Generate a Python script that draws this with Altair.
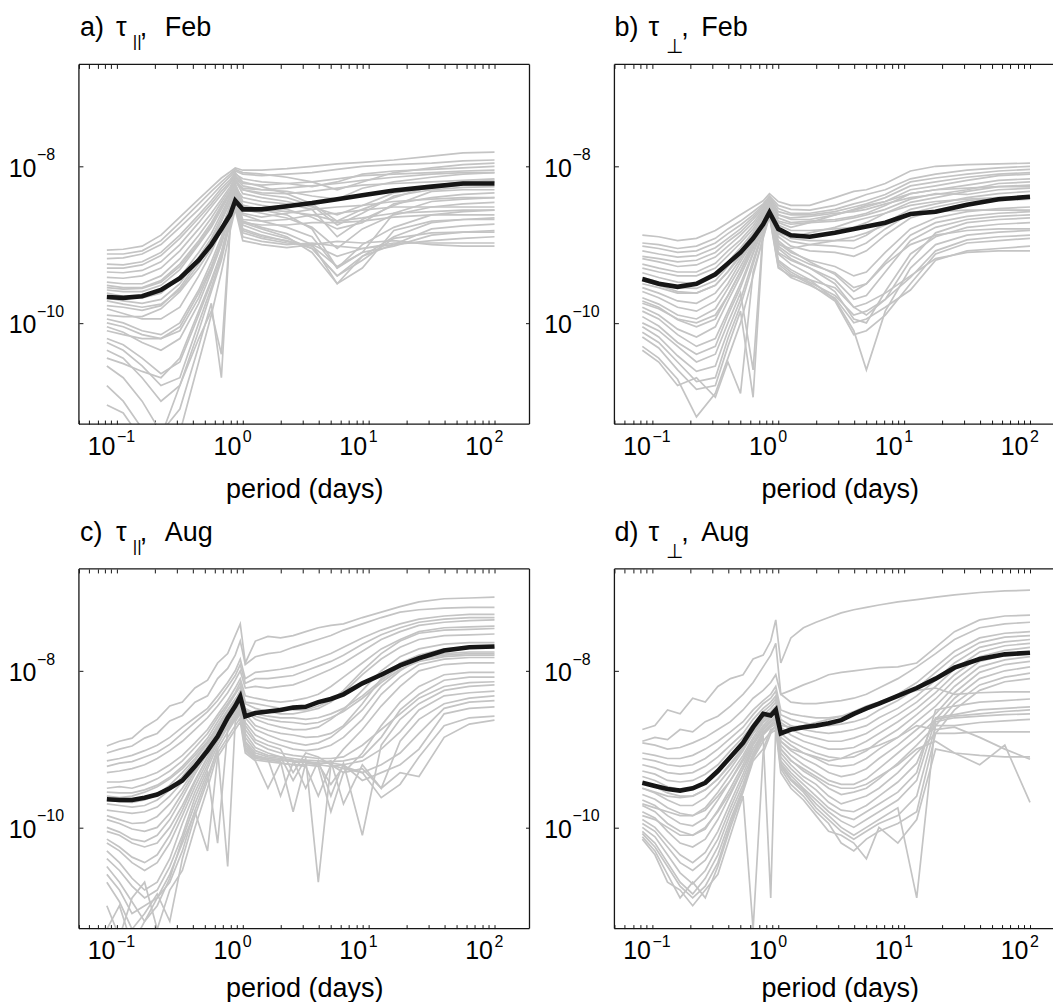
import altair as alt
import pandas as pd

FONT = "Liberation Sans"
GRAY = "#c4c4c4"
INK = "#161616"

# ---------------- axes / ticks ----------------
Y_DOMAIN = [5.1e-12, 2.0e-7]
X_DOMAIN_LEFT = [0.0499, 189.7]
X_DOMAIN_RIGHT = [0.0499, 152.3]
X_TICKS = [k * 10.0 ** e for e in (-2, -1, 0, 1, 2) for k in range(1, 10)
           if 0.0499 <= k * 10.0 ** e <= 189.7]
X_MAJOR = [0.1, 1, 10, 100]
X_EXP = ["−1", "0", "1", "2"]
Y_MAJOR = [1e-10, 1e-8]
Y_EXP = ["−10", "−8"]
BASE_LABEL = "10"

# ---------------- panel a) tau_par, Feb (log10 period, log10 value) ----------------
GRID_A = [-1.08, -0.95, -0.8, -0.65, -0.5, -0.35, -0.25, -0.17, -0.1, -0.06,
          0.0, 0.15, 0.35, 0.55, 0.75, 0.95, 1.2, 1.5, 1.75, 2.0]
MEAN_A = [-9.67, -9.68, -9.66, -9.58, -9.43, -9.2, -9.0, -8.8, -8.62, -8.44,
          -8.55, -8.55, -8.51, -8.47, -8.42, -8.37, -8.31, -8.26, -8.22, -8.22]
GRAY_A = [
    [-9.07, -9.06, -9.02, -8.88, -8.65, -8.42, -8.27, -8.15, -8.07, -8.02, -8.05, -8.05, -8.03, -8.0, -7.97, -7.95, -7.92, -7.87, -7.83, -7.82],
    [-9.18, -9.17, -9.12, -9.0, -8.78, -8.55, -8.38, -8.24, -8.13, -8.06, -8.1, -8.12, -8.1, -8.08, -8.04, -8.0, -7.98, -7.96, -7.93, -7.92],
    [-9.3, -9.3, -9.26, -9.14, -8.92, -8.66, -8.48, -8.32, -8.2, -8.1, -8.16, -8.2, -8.22, -8.26, -8.2, -8.1, -8.06, -8.04, -8.02, -8.0],
    [-9.42, -9.43, -9.4, -9.3, -9.08, -8.8, -8.6, -8.42, -8.26, -8.14, -8.25, -8.3, -8.32, -8.38, -8.42, -8.28, -8.2, -8.14, -8.1, -8.08],
    [-9.52, -9.55, -9.55, -9.46, -9.25, -8.95, -8.72, -8.5, -8.32, -8.18, -8.35, -8.4, -8.45, -8.52, -8.62, -8.5, -8.34, -8.28, -8.24, -8.2],
    [-9.62, -9.66, -9.68, -9.62, -9.42, -9.1, -8.86, -8.6, -8.38, -8.22, -8.45, -8.5, -8.55, -8.65, -8.8, -8.72, -8.48, -8.4, -8.36, -8.34],
    [-9.72, -9.76, -9.8, -9.76, -9.58, -9.25, -8.98, -8.7, -8.44, -8.26, -8.55, -8.6, -8.66, -8.78, -9.05, -8.8, -8.62, -8.52, -8.48, -8.46],
    [-9.82, -9.88, -9.95, -9.95, -9.8, -9.4, -9.1, -8.8, -8.5, -8.3, -8.62, -8.7, -8.78, -8.9, -9.3, -9.0, -8.78, -8.62, -8.58, -8.56],
    [-9.95, -10.0, -10.1, -10.15, -10.0, -9.58, -9.22, -8.9, -8.56, -8.34, -8.7, -8.78, -8.86, -9.0, -9.5, -9.15, -8.9, -8.72, -8.68, -8.66],
    [-10.05, -10.12, -10.25, -10.35, -10.2, -9.75, -9.35, -9.0, -8.62, -8.38, -8.75, -8.84, -8.92, -9.05, -9.4, -9.15, -9.0, -8.8, -8.76, -8.74],
    [-10.2, -10.28, -10.45, -10.65, -10.5, -9.9, -9.48, -9.1, -8.68, -8.42, -8.8, -8.88, -8.96, -9.02, -9.28, -9.1, -9.02, -8.88, -8.84, -8.82],
    [-10.35, -10.45, -10.7, -11.0, -10.8, -10.1, -9.6, -9.2, -8.72, -8.46, -8.85, -8.92, -8.98, -9.0, -9.15, -9.05, -9.0, -8.95, -8.92, -8.9],
    [-10.55, -10.7, -11.0, -11.4, -11.1, -10.3, -9.75, -10.7, -8.78, -8.5, -8.9, -8.96, -9.0, -8.98, -9.02, -9.05, -8.98, -8.98, -8.98, -8.98],
    [-10.8, -11.0, -11.35, -11.5, -11.4, -10.5, -9.9, -9.35, -8.82, -8.55, -8.95, -9.0, -9.04, -9.0, -8.96, -8.98, -8.95, -9.0, -9.02, -9.02],
    [-11.05, -11.15, -11.5, -11.45, -10.8, -10.2, -9.85, -10.4, -8.75, -8.5, -8.72, -8.75, -8.75, -8.72, -8.72, -8.7, -8.65, -8.62, -8.62, -8.62],
    [-9.25, -9.26, -9.22, -9.1, -8.88, -8.62, -8.44, -8.28, -8.17, -8.08, -8.2, -8.26, -8.35, -8.48, -8.7, -8.55, -8.4, -8.25, -8.2, -8.18],
    [-9.9, -9.92, -9.92, -9.82, -9.6, -9.3, -9.05, -8.82, -8.5, -8.32, -8.6, -8.65, -8.6, -8.55, -8.52, -8.5, -8.45, -8.42, -8.4, -8.4],
    [-10.45, -10.52, -10.62, -10.7, -10.45, -9.85, -9.45, -9.1, -8.66, -8.4, -8.68, -8.7, -8.68, -8.62, -8.6, -8.56, -8.52, -8.52, -8.52, -8.52],
    [-9.35, -9.36, -9.33, -9.22, -9.0, -8.72, -8.52, -8.36, -8.22, -8.12, -8.22, -8.24, -8.22, -8.2, -8.16, -8.12, -8.1, -8.08, -8.06, -8.05],
    [-9.58, -9.6, -9.6, -9.52, -9.32, -9.0, -8.78, -8.55, -8.35, -8.2, -8.3, -8.34, -8.35, -8.32, -8.28, -8.24, -8.22, -8.2, -8.18, -8.16],
    [-10.1, -10.15, -10.2, -10.2, -10.05, -9.62, -9.28, -8.95, -8.58, -8.36, -8.5, -8.55, -8.58, -8.62, -8.7, -8.66, -8.6, -8.58, -8.56, -8.56],
    [-9.78, -9.8, -9.84, -9.78, -9.55, -9.2, -8.94, -8.7, -8.45, -8.27, -8.4, -8.45, -8.48, -8.55, -8.9, -8.68, -8.5, -8.32, -8.3, -8.3],
    [-9.12, -9.12, -9.08, -8.95, -8.72, -8.48, -8.32, -8.2, -8.1, -8.04, -8.08, -8.1, -8.14, -8.2, -8.3, -8.2, -8.08, -8.02, -7.98, -7.96],
    [-9.48, -9.5, -9.5, -9.4, -9.18, -8.88, -8.66, -8.46, -8.29, -8.16, -8.3, -8.36, -8.4, -8.5, -8.75, -8.6, -8.38, -8.3, -8.27, -8.26],
    [-9.68, -9.72, -9.75, -9.7, -9.5, -9.16, -8.92, -8.65, -8.4, -8.24, -8.5, -8.56, -8.62, -8.8, -9.3, -9.1, -8.6, -8.45, -8.42, -8.4],
    [-10.0, -10.05, -10.15, -10.2, -10.1, -9.68, -9.3, -8.96, -8.6, -8.37, -8.72, -8.8, -8.9, -9.1, -9.5, -9.3, -8.82, -8.7, -8.68, -8.68],
    [-10.25, -10.35, -10.55, -10.8, -10.7, -10.0, -9.55, -9.15, -8.7, -8.44, -8.82, -8.9, -8.95, -9.05, -9.4, -9.2, -8.92, -8.85, -8.84, -8.84],
    [-9.55, -9.57, -9.56, -9.48, -9.28, -8.98, -8.75, -8.52, -8.33, -8.19, -8.28, -8.3, -8.28, -8.25, -8.22, -8.18, -8.14, -8.1, -8.08, -8.08],
]

# ---------------- panel b) tau_perp, Feb ----------------
GRID_B = [-1.08, -0.95, -0.8, -0.65, -0.5, -0.4, -0.3, -0.2, -0.12, -0.07, 0.0,
          0.1, 0.25, 0.45, 0.6, 0.7, 0.85, 1.05, 1.25, 1.5, 1.75, 2.0]
MEAN_B = [-9.44, -9.5, -9.54, -9.5, -9.38, -9.24, -9.1, -8.92, -8.74, -8.59, -8.8,
          -8.88, -8.9, -8.85, -8.8, -8.77, -8.72, -8.61, -8.58, -8.49, -8.42, -8.39]
GRAY_B = [
    [-8.88, -8.9, -8.95, -8.92, -8.82, -8.72, -8.62, -8.52, -8.44, -8.35, -8.45, -8.5, -8.5, -8.4, -8.32, -8.3, -8.22, -8.06, -8.0, -7.98, -7.97, -7.96],
    [-8.98, -9.0, -9.05, -9.02, -8.92, -8.8, -8.7, -8.58, -8.48, -8.38, -8.5, -8.55, -8.56, -8.5, -8.42, -8.36, -8.3, -8.16, -8.1, -8.05, -8.02, -8.0],
    [-9.08, -9.12, -9.16, -9.14, -9.04, -8.92, -8.8, -8.65, -8.52, -8.4, -8.58, -8.62, -8.62, -8.58, -8.52, -8.48, -8.4, -8.25, -8.2, -8.14, -8.1, -8.08],
    [-9.18, -9.22, -9.28, -9.26, -9.16, -9.02, -8.88, -8.72, -8.56, -8.42, -8.66, -8.72, -8.7, -8.68, -8.64, -8.6, -8.5, -8.35, -8.3, -8.24, -8.18, -8.16],
    [-9.3, -9.35, -9.4, -9.4, -9.3, -9.14, -8.98, -8.8, -8.6, -8.45, -8.75, -8.82, -8.82, -8.8, -8.78, -8.72, -8.6, -8.46, -8.4, -8.32, -8.26, -8.24],
    [-9.42, -9.48, -9.55, -9.56, -9.46, -9.28, -9.08, -8.86, -8.64, -8.47, -8.82, -8.92, -8.95, -8.95, -8.95, -8.88, -8.72, -8.55, -8.48, -8.4, -8.35, -8.32],
    [-9.55, -9.62, -9.72, -9.75, -9.62, -9.42, -9.18, -8.92, -8.68, -8.5, -8.9, -9.02, -9.08, -9.1, -9.15, -9.08, -8.88, -8.66, -8.56, -8.48, -8.44, -8.42],
    [-9.68, -9.76, -9.9, -9.95, -9.82, -9.56, -9.28, -8.98, -8.7, -8.52, -8.98, -9.1, -9.2, -9.28, -9.4, -9.35, -9.1, -8.8, -8.66, -8.58, -8.54, -8.52],
    [-9.8, -9.9, -10.08, -10.18, -10.05, -9.72, -9.4, -9.05, -8.74, -8.54, -9.05, -9.18, -9.3, -9.45, -9.7, -9.65, -9.35, -8.95, -8.78, -8.68, -8.64, -8.62],
    [-9.92, -10.04, -10.25, -10.4, -10.3, -9.9, -9.55, -9.12, -8.78, -8.56, -9.12, -9.25, -9.38, -9.6, -9.95, -10.0, -9.6, -9.12, -8.9, -8.78, -8.74, -8.72],
    [-10.05, -10.18, -10.42, -10.62, -10.55, -10.1, -9.7, -9.2, -8.82, -8.58, -9.2, -9.32, -9.45, -9.7, -10.1, -10.6, -9.85, -9.3, -9.0, -8.88, -8.84, -8.82],
    [-10.18, -10.32, -10.6, -10.85, -10.8, -10.3, -9.85, -10.95, -8.86, -8.6, -9.25, -9.38, -9.5, -9.72, -10.15, -10.1, -9.9, -9.5, -9.12, -8.98, -8.95, -8.92],
    [-10.3, -10.45, -10.72, -11.2, -10.9, -10.45, -10.0, -9.4, -8.9, -8.62, -9.28, -9.42, -9.52, -9.68, -10.0, -9.95, -9.8, -9.58, -9.2, -9.08, -9.05, -9.02],
    [-10.35, -10.5, -10.8, -10.7, -10.95, -10.5, -10.9, -9.35, -8.92, -8.64, -9.3, -9.4, -9.45, -9.55, -9.8, -9.75, -9.62, -9.4, -9.18, -9.1, -9.08, -9.08],
    [-9.5, -9.55, -9.62, -9.62, -9.52, -9.35, -9.15, -8.9, -8.66, -8.48, -8.72, -8.78, -8.72, -8.62, -8.55, -8.5, -8.45, -8.35, -8.3, -8.28, -8.26, -8.26],
    [-9.75, -9.82, -9.95, -10.0, -9.9, -9.65, -9.35, -9.02, -8.72, -8.52, -8.85, -8.9, -8.85, -8.78, -8.7, -8.66, -8.6, -8.5, -8.45, -8.42, -8.4, -8.4],
    [-10.0, -10.1, -10.3, -10.5, -10.4, -10.0, -9.62, -10.6, -8.8, -8.56, -9.0, -9.05, -9.0, -8.95, -8.9, -8.85, -8.75, -8.62, -8.58, -8.56, -8.56, -8.56],
    [-9.6, -9.68, -9.8, -9.85, -9.72, -9.5, -9.22, -8.95, -8.7, -8.5, -8.95, -9.08, -9.22, -9.38, -9.6, -9.5, -9.25, -9.0, -8.88, -8.82, -8.8, -8.8],
    [-9.25, -9.3, -9.35, -9.35, -9.24, -9.08, -8.94, -8.76, -8.58, -8.44, -8.62, -8.66, -8.64, -8.6, -8.58, -8.55, -8.48, -8.4, -8.36, -8.3, -8.22, -8.2],
    [-9.85, -9.95, -10.15, -10.3, -10.2, -9.85, -9.5, -9.1, -8.76, -8.55, -9.1, -9.2, -9.3, -9.5, -9.8, -9.9, -9.7, -9.2, -8.85, -8.72, -8.68, -8.66],
    [-9.36, -9.42, -9.48, -9.5, -9.4, -9.22, -9.04, -8.84, -8.62, -8.46, -8.7, -8.74, -8.72, -8.7, -8.66, -8.62, -8.55, -8.42, -8.35, -8.36, -8.3, -8.28],
    [-9.02, -9.05, -9.1, -9.08, -8.98, -8.86, -8.75, -8.62, -8.5, -8.39, -8.54, -8.6, -8.6, -8.55, -8.48, -8.44, -8.36, -8.2, -8.15, -8.1, -8.06, -8.04],
    [-9.46, -9.52, -9.6, -9.62, -9.52, -9.34, -9.12, -8.88, -8.66, -8.48, -8.86, -8.96, -9.0, -9.02, -9.05, -8.98, -8.8, -8.6, -8.52, -8.44, -8.4, -8.38],
    [-9.72, -9.8, -9.96, -10.05, -9.95, -9.65, -9.34, -9.0, -8.72, -8.53, -9.02, -9.14, -9.25, -9.36, -9.55, -9.5, -9.22, -8.88, -8.72, -8.64, -8.6, -8.58],
    [-10.12, -10.25, -10.5, -10.75, -10.7, -10.2, -9.78, -9.25, -8.84, -8.59, -9.22, -9.35, -9.48, -9.65, -9.9, -9.85, -9.7, -9.42, -9.08, -8.94, -8.9, -8.88],
    [-9.15, -9.18, -9.22, -9.2, -9.1, -8.96, -8.84, -8.68, -8.54, -8.41, -8.62, -8.68, -8.68, -8.62, -8.56, -8.52, -8.45, -8.3, -8.25, -8.18, -8.12, -8.1],
]

# ---------------- panel c) tau_par, Aug ----------------
GRID_C = [-1.08, -0.98, -0.88, -0.78, -0.68, -0.58, -0.48, -0.38, -0.28, -0.2, -0.12,
          -0.06, -0.02, 0.02, 0.1, 0.2, 0.3, 0.4, 0.5, 0.6, 0.7, 0.8, 0.95, 1.1,
          1.25, 1.4, 1.6, 1.8, 2.0]
MEAN_C = [-9.64, -9.65, -9.65, -9.62, -9.58, -9.5, -9.4, -9.22, -9.02, -8.84, -8.6,
          -8.45, -8.33, -8.58, -8.54, -8.52, -8.5, -8.47, -8.46, -8.4, -8.36, -8.3,
          -8.16, -8.05, -7.93, -7.84, -7.74, -7.7, -7.69]
GRAY_C = [
    [-8.96, -8.9, -8.86, -8.72, -8.62, -8.45, -8.4, -8.22, -8.12, -7.9, -7.78, -7.55, -7.4, -7.9, -7.62, -7.56, -7.58, -7.55, -7.5, -7.45, -7.42, -7.4, -7.32, -7.25, -7.18, -7.12, -7.08, -7.07, -7.06],
    [-9.05, -9.0, -8.96, -8.86, -8.8, -8.64, -8.57, -8.4, -8.32, -8.1, -7.97, -7.8, -7.62, -7.92, -7.82, -7.78, -7.76, -7.7, -7.65, -7.6, -7.55, -7.48, -7.4, -7.32, -7.25, -7.22, -7.2, -7.19, -7.19],
    [-9.15, -9.12, -9.08, -9.02, -8.95, -8.85, -8.72, -8.6, -8.48, -8.32, -8.15, -8.0, -7.85, -8.1, -8.02, -8.0, -7.98, -7.95, -7.9, -7.84, -7.78, -7.7, -7.58, -7.48, -7.4, -7.34, -7.3, -7.28, -7.28],
    [-9.3, -9.28, -9.25, -9.2, -9.12, -9.02, -8.9, -8.75, -8.6, -8.45, -8.28, -8.12, -8.0, -8.22, -8.2, -8.22, -8.2, -8.18, -8.12, -8.05, -7.98, -7.9, -7.75, -7.6, -7.5, -7.42, -7.38, -7.36, -7.35],
    [-9.42, -9.42, -9.4, -9.36, -9.3, -9.2, -9.08, -8.92, -8.75, -8.56, -8.38, -8.22, -8.1, -8.32, -8.35, -8.38, -8.4, -8.38, -8.35, -8.3, -8.2, -8.08, -7.9, -7.72, -7.6, -7.5, -7.45, -7.44, -7.43],
    [-9.55, -9.56, -9.56, -9.52, -9.46, -9.36, -9.22, -9.05, -8.86, -8.65, -8.45, -8.3, -8.2, -8.42, -8.48, -8.52, -8.55, -8.55, -8.52, -8.48, -8.4, -8.28, -8.05, -7.85, -7.7, -7.6, -7.55, -7.54, -7.53],
    [-9.7, -9.72, -9.74, -9.72, -9.65, -9.52, -9.35, -9.15, -8.92, -8.7, -8.5, -8.36, -8.28, -8.5, -8.62, -8.68, -8.72, -8.75, -8.75, -8.72, -8.62, -8.5, -8.25, -8.0, -7.82, -7.72, -7.66, -7.64, -7.64],
    [-9.85, -9.9, -9.95, -9.94, -9.86, -9.7, -9.5, -9.25, -9.0, -8.76, -8.55, -8.4, -8.32, -8.6, -8.75, -8.82, -8.88, -8.92, -8.95, -8.92, -8.85, -8.72, -8.5, -8.2, -8.0, -7.85, -7.78, -7.76, -7.76],
    [-10.0, -10.06, -10.15, -10.18, -10.1, -9.9, -9.62, -9.32, -9.05, -8.82, -8.6, -8.45, -8.36, -8.7, -8.88, -8.95, -9.0, -9.3, -9.05, -9.1, -9.2, -9.0, -8.75, -8.45, -8.2, -8.0, -7.92, -7.9, -7.9],
    [-10.15, -10.25, -10.38, -10.45, -10.35, -10.1, -9.78, -9.42, -9.1, -8.85, -8.65, -8.5, -8.4, -8.8, -8.98, -9.05, -9.1, -9.4, -9.12, -10.7, -9.2, -9.3, -9.05, -8.7, -8.4, -8.2, -8.05, -8.02, -8.02],
    [-10.3, -10.45, -10.65, -10.8, -10.7, -10.4, -9.95, -9.55, -9.2, -8.9, -8.7, -8.55, -8.45, -8.9, -9.05, -9.1, -9.12, -9.14, -9.5, -9.15, -9.6, -9.18, -10.1, -8.95, -8.62, -8.42, -8.25, -8.2, -8.18],
    [-10.5, -10.7, -10.95, -11.2, -11.0, -10.65, -10.15, -9.7, -9.3, -10.2, -8.75, -8.6, -8.5, -8.95, -9.1, -9.12, -9.14, -9.16, -9.15, -9.2, -9.15, -9.7, -9.2, -9.5, -8.9, -8.62, -8.42, -8.35, -8.32],
    [-10.7, -10.95, -11.3, -11.1, -10.85, -11.2, -10.4, -9.85, -9.4, -9.0, -10.5, -8.65, -8.55, -9.0, -9.12, -9.14, -9.16, -9.8, -9.18, -9.2, -9.22, -9.2, -9.4, -9.3, -9.2, -9.0, -8.55, -8.48, -8.46],
    [-11.0, -11.4, -10.9, -10.7, -11.3, -10.8, -10.55, -10.0, -9.5, -9.05, -8.85, -8.7, -8.6, -9.02, -9.14, -9.16, -9.18, -9.2, -9.22, -9.6, -9.2, -9.25, -9.3, -9.62, -9.45, -9.1, -8.7, -8.6, -8.58],
    [-11.3, -11.0, -11.5, -11.2, -10.9, -10.6, -10.2, -9.8, -10.3, -9.1, -8.9, -8.75, -8.65, -9.05, -9.15, -9.5, -9.18, -9.2, -9.2, -9.22, -9.8, -9.3, -9.25, -9.5, -9.3, -9.35, -8.85, -8.68, -8.63],
    [-9.6, -9.62, -9.6, -9.55, -9.48, -9.38, -9.25, -9.08, -8.9, -8.72, -8.52, -8.38, -8.25, -8.48, -8.55, -8.58, -8.6, -8.6, -8.62, -8.6, -8.55, -8.48, -8.32, -8.12, -7.95, -7.85, -7.8, -7.78, -7.78],
    [-10.05, -10.1, -10.2, -10.25, -10.2, -10.0, -9.72, -9.4, -9.1, -8.85, -8.62, -8.48, -8.38, -8.75, -8.92, -9.0, -9.05, -9.08, -9.1, -9.12, -9.12, -9.1, -8.95, -8.75, -8.55, -8.35, -8.2, -8.15, -8.14],
    [-9.5, -9.48, -9.5, -9.45, -9.38, -9.28, -9.15, -8.98, -8.8, -8.6, -8.42, -8.28, -8.15, -8.4, -8.42, -8.45, -8.48, -8.5, -8.5, -8.45, -8.38, -8.25, -8.0, -7.78, -7.62, -7.52, -7.48, -7.47, -7.46],
    [-10.4, -10.55, -10.75, -10.9, -10.8, -10.5, -10.1, -9.62, -9.25, -8.95, -8.72, -8.58, -8.48, -8.92, -9.08, -9.12, -9.14, -9.15, -9.16, -9.18, -9.18, -9.2, -9.15, -9.0, -8.78, -8.5, -8.32, -8.28, -8.26],
    [-9.78, -9.8, -9.82, -9.8, -9.74, -9.6, -9.42, -9.2, -8.96, -8.74, -8.52, -8.38, -8.3, -8.55, -8.7, -8.76, -8.8, -8.82, -8.85, -8.84, -8.8, -8.7, -8.42, -8.1, -7.9, -7.8, -7.72, -7.7, -7.7],
    [-9.22, -9.18, -9.16, -9.1, -9.04, -8.94, -8.8, -8.66, -8.52, -8.38, -8.2, -8.06, -7.92, -8.16, -8.1, -8.1, -8.08, -8.06, -8.0, -7.94, -7.88, -7.8, -7.66, -7.54, -7.45, -7.38, -7.34, -7.32, -7.32],
    [-9.9, -9.95, -10.02, -10.05, -10.0, -9.82, -9.56, -9.28, -9.02, -8.8, -8.58, -8.44, -8.35, -8.66, -8.82, -8.9, -8.95, -9.0, -9.02, -9.0, -8.95, -8.85, -8.62, -8.3, -8.08, -7.92, -7.85, -7.83, -7.83],
    [-10.6, -10.8, -11.1, -11.0, -10.9, -10.7, -10.3, -9.78, -9.35, -9.0, -8.78, -8.62, -8.52, -8.98, -9.1, -9.13, -9.6, -9.17, -9.17, -9.19, -9.45, -9.22, -9.3, -9.2, -9.05, -8.8, -8.48, -8.4, -8.38],
    [-9.65, -9.67, -9.68, -9.65, -9.58, -9.46, -9.3, -9.12, -8.92, -8.7, -8.5, -8.37, -8.27, -8.5, -8.58, -8.62, -8.65, -8.66, -8.68, -8.66, -8.6, -8.52, -8.35, -8.15, -7.98, -7.88, -7.82, -7.8, -7.8],
    [-10.2, -10.3, -10.45, -10.55, -10.45, -10.2, -9.85, -9.48, -9.15, -8.88, -8.66, -8.52, -8.42, -8.85, -9.02, -9.08, -9.1, -9.12, -9.14, -9.15, -9.16, -9.15, -9.1, -8.85, -8.5, -8.3, -8.12, -8.08, -8.08],
]

# ---------------- panel d) tau_perp, Aug ----------------
GRID_D = GRID_C
MEAN_D = [-9.43, -9.47, -9.51, -9.53, -9.5, -9.43, -9.28, -9.1, -8.92, -8.72, -8.55,
          -8.57, -8.5, -8.8, -8.75, -8.72, -8.7, -8.67, -8.63, -8.55, -8.48, -8.42,
          -8.32, -8.22, -8.1, -7.96, -7.85, -7.79, -7.77]
GRAY_D = [
    [-8.75, -8.7, -8.5, -8.55, -8.35, -8.4, -8.2, -8.1, -8.05, -7.85, -7.8, -7.62, -7.35, -7.9, -7.58, -7.45, -7.38, -7.32, -7.26, -7.22, -7.19, -7.16, -7.12, -7.09, -7.06, -7.03, -7.0, -6.98, -6.97],
    [-8.9, -8.85, -8.88, -8.75, -8.78, -8.65, -8.58, -8.45, -8.3, -8.15, -7.95, -7.8, -7.65, -8.3, -8.25, -8.18, -8.12, -8.05, -8.02, -8.0, -7.98, -7.96, -7.95, -7.9, -7.7, -7.5, -7.35, -7.3, -7.29],
    [-8.92, -8.95, -9.0, -8.98, -8.92, -8.85, -8.75, -8.65, -8.5, -8.35, -8.25, -8.15, -8.05, -8.3, -8.4, -8.42, -8.42, -8.4, -8.38, -8.35, -8.3, -8.22, -8.1, -7.95, -7.78, -7.6, -7.45, -7.4, -7.38],
    [-9.05, -9.08, -9.12, -9.12, -9.08, -9.0, -8.9, -8.78, -8.65, -8.5, -8.38, -8.3, -8.2, -8.5, -8.55, -8.58, -8.6, -8.6, -8.58, -8.55, -8.5, -8.42, -8.3, -8.15, -7.95, -7.75, -7.58, -7.52, -7.5],
    [-9.2, -9.24, -9.3, -9.32, -9.3, -9.22, -9.1, -8.95, -8.8, -8.62, -8.48, -8.4, -8.32, -8.62, -8.7, -8.75, -8.78, -8.8, -8.78, -8.75, -8.7, -8.6, -8.48, -8.32, -8.12, -7.9, -7.7, -7.63, -7.6],
    [-9.35, -9.4, -9.48, -9.52, -9.5, -9.42, -9.28, -9.1, -8.92, -8.72, -8.56, -8.48, -8.4, -8.72, -8.82, -8.9, -8.95, -9.0, -9.0, -8.98, -8.9, -8.8, -8.65, -8.48, -8.28, -8.05, -7.82, -7.74, -7.7],
    [-9.5, -9.56, -9.65, -9.72, -9.72, -9.62, -9.45, -9.25, -9.02, -8.8, -8.62, -8.55, -8.48, -8.85, -8.95, -9.05, -9.12, -9.2, -9.22, -9.2, -9.12, -9.0, -8.85, -8.65, -8.45, -8.2, -7.95, -7.86, -7.82],
    [-9.65, -9.72, -9.85, -9.95, -9.98, -9.88, -9.65, -9.4, -9.12, -8.88, -8.7, -8.6, -8.55, -8.95, -9.08, -9.2, -9.3, -9.4, -9.45, -9.45, -9.38, -9.25, -9.05, -8.85, -8.62, -8.35, -8.1, -8.0, -7.95],
    [-9.8, -9.88, -10.05, -10.2, -10.25, -10.15, -9.9, -9.58, -9.25, -8.95, -8.75, -8.65, -8.6, -9.05, -9.2, -9.35, -9.45, -9.6, -9.7, -9.65, -9.6, -9.5, -9.3, -9.05, -8.8, -8.5, -8.25, -8.14, -8.1],
    [-9.95, -10.05, -10.25, -10.45, -10.55, -10.42, -10.15, -9.75, -9.38, -9.05, -8.8, -8.7, -8.65, -9.15, -9.3, -9.45, -9.6, -9.75, -9.85, -9.9, -9.8, -9.7, -9.55, -9.3, -8.5, -8.45, -8.4, -8.38, -8.36],
    [-10.05, -10.2, -10.45, -10.7, -10.85, -10.65, -10.35, -9.9, -9.5, -9.1, -8.85, -10.9, -8.7, -9.2, -9.38, -9.52, -9.7, -9.85, -10.0, -10.1, -10.0, -9.9, -9.75, -10.9, -8.65, -8.6, -8.58, -8.56, -8.55],
    [-10.12, -10.3, -10.6, -10.9, -10.7, -10.9, -10.5, -10.0, -9.55, -9.15, -9.0, -8.75, -8.72, -9.25, -9.45, -9.6, -9.8, -9.95, -10.2, -10.3, -10.15, -10.05, -9.95, -9.8, -8.8, -8.8, -8.78, -8.78, -8.78],
    [-10.15, -10.35, -10.7, -10.8, -11.0, -10.8, -10.6, -10.1, -9.6, -11.3, -9.05, -8.8, -8.75, -9.3, -9.5, -9.65, -9.85, -10.05, -10.1, -10.2, -10.4, -10.0, -10.2, -9.9, -9.0, -9.05, -9.08, -9.1, -9.1],
    [-9.5, -9.55, -9.6, -9.62, -9.6, -9.52, -9.38, -9.2, -9.0, -8.8, -8.65, -8.56, -8.5, -8.7, -8.72, -8.7, -8.66, -8.62, -8.58, -8.52, -8.45, -8.4, -8.32, -8.25, -8.22, -8.3, -8.28, -8.27, -8.27],
    [-9.7, -9.75, -9.8, -9.85, -9.85, -9.78, -9.6, -9.4, -9.15, -8.92, -8.75, -8.65, -8.6, -8.9, -9.0, -9.05, -9.1, -9.15, -9.12, -9.05, -9.0, -8.95, -8.85, -8.7, -8.75, -8.72, -8.85, -9.0, -9.13],
    [-9.85, -9.9, -10.0, -10.1, -10.1, -10.0, -9.8, -9.55, -9.25, -9.0, -8.8, -8.7, -8.65, -9.0, -9.15, -9.25, -9.35, -9.45, -9.5, -9.5, -9.45, -9.35, -9.2, -9.0, -8.9, -9.05, -9.2, -8.95, -9.68],
    [-9.28, -9.32, -9.4, -9.42, -9.4, -9.32, -9.2, -9.02, -8.85, -8.68, -8.52, -8.44, -8.36, -8.66, -8.75, -8.82, -8.86, -8.9, -8.9, -8.86, -8.8, -8.7, -8.56, -8.4, -8.2, -7.98, -7.76, -7.68, -7.65],
    [-9.58, -9.64, -9.75, -9.82, -9.85, -9.75, -9.55, -9.32, -9.08, -8.85, -8.66, -8.58, -8.52, -8.9, -9.02, -9.12, -9.2, -9.3, -9.35, -9.32, -9.25, -9.12, -8.95, -8.75, -8.55, -8.28, -8.02, -7.92, -7.88],
    [-10.08, -10.25, -10.5, -10.75, -10.9, -10.75, -10.45, -9.95, -9.52, -9.12, -8.9, -8.78, -8.7, -9.22, -9.4, -9.55, -9.75, -9.9, -10.05, -10.15, -10.05, -9.95, -9.85, -9.6, -8.7, -8.7, -8.66, -8.64, -8.62],
    [-9.12, -9.15, -9.2, -9.22, -9.2, -9.12, -9.0, -8.86, -8.72, -8.56, -8.42, -8.35, -8.26, -8.56, -8.62, -8.66, -8.7, -8.7, -8.68, -8.65, -8.6, -8.5, -8.38, -8.22, -8.02, -7.82, -7.64, -7.57, -7.55],
    [-9.42, -9.48, -9.56, -9.6, -9.6, -9.52, -9.38, -9.18, -8.98, -8.78, -8.6, -8.52, -8.45, -8.8, -8.9, -8.98, -9.05, -9.1, -9.12, -9.1, -9.02, -8.9, -8.75, -8.56, -8.36, -8.12, -7.88, -7.8, -7.76],
    [-9.72, -9.8, -9.95, -10.05, -10.1, -10.02, -9.78, -9.5, -9.2, -8.92, -8.72, -8.63, -8.58, -9.0, -9.14, -9.28, -9.38, -9.5, -9.58, -9.55, -9.5, -9.38, -9.18, -8.95, -8.7, -8.42, -8.18, -8.08, -8.03],
    [-9.9, -10.0, -10.18, -10.35, -10.45, -10.32, -10.05, -9.68, -9.32, -9.0, -8.78, -8.68, -8.62, -9.1, -9.25, -9.4, -9.52, -9.68, -9.78, -9.8, -9.72, -9.6, -9.42, -9.18, -8.6, -8.56, -8.5, -8.48, -8.46],
    [-10.0, -10.12, -10.35, -10.58, -10.72, -10.55, -10.25, -9.82, -9.45, -9.08, -8.82, -8.72, -8.68, -9.18, -9.34, -9.5, -9.65, -9.8, -9.92, -10.0, -9.9, -9.8, -9.65, -9.4, -8.62, -8.58, -8.55, -8.52, -8.5],
]

ONE = pd.DataFrame({"k": [0]})
H = 360
TICK = 4
LABEL_SIZE = 25
EXP_SIZE = 16


def lines_df(grid, gray):
    rows = []
    for i, vals in enumerate(gray):
        for p, v in zip(grid, vals):
            rows.append({"series": f"s{i:02d}", "period": 10 ** p, "tau": 10 ** v})
    return pd.DataFrame(rows)


def mean_df(grid, mean):
    return pd.DataFrame({"period": [10 ** p for p in grid], "tau": [10 ** v for v in mean]})


def base_expr(values):
    cond = " || ".join(f"datum.value == {v!r}" for v in values)
    return f"({cond}) ? '{BASE_LABEL}' : ''"


def x_bottom(title_y):
    return alt.Axis(orient="bottom", values=X_TICKS, labelExpr=base_expr(X_MAJOR),
                    tickSize=TICK, offset=-TICK, domain=False, grid=False, tickColor=INK,
                    labelFont=FONT, labelFontSize=LABEL_SIZE, labelColor="black",
                    labelPadding=30, labelAlign="right", labelOffset=-2,
                    labelBaseline="alphabetic", labelOverlap=False, labelFlush=False,
                    title="period (days)", titleFont=FONT, titleFontSize=27,
                    titleFontWeight="normal", titleColor="black", titleX=225.5,
                    titleY=title_y, titleAlign="center", titleBaseline="alphabetic")


def x_top():
    return alt.Axis(orient="top", values=X_TICKS, labels=False, tickSize=TICK, offset=-TICK,
                    domain=False, grid=False, tickColor=INK, title=None)


def y_left():
    return alt.Axis(orient="left", values=Y_MAJOR, labelExpr=base_expr(Y_MAJOR),
                    tickSize=TICK, offset=-TICK, domain=False, grid=False, tickColor=INK,
                    labelFont=FONT, labelFontSize=LABEL_SIZE, labelColor="black",
                    labelPadding=43, labelAlign="right", labelBaseline="alphabetic",
                    labelOffset=10, labelOverlap=False, labelFlush=False, title=None)


def y_right():
    return alt.Axis(orient="right", values=Y_MAJOR, labels=False, tickSize=TICK, offset=-TICK,
                    domain=False, grid=False, tickColor=INK, title=None)


def txt(s, x, y, size):
    return alt.Chart(ONE).mark_text(align="left", baseline="alphabetic", font=FONT,
                                    fontSize=size, color="black").encode(
        x=alt.value(x), y=alt.value(y), text=alt.value(s))


def rule(**enc):
    return alt.Chart(ONE).mark_rule(color=INK, strokeWidth=1.3).encode(**enc)


def panel(grid, gray, mean, width, xdom, letter, sub, month, right, title_y, anchor_left, anchor_top):
    xs = alt.Scale(type="log", domain=xdom, nice=False)
    ys = alt.Scale(type="log", domain=Y_DOMAIN, nice=False)
    g = alt.Chart(lines_df(grid, gray)).mark_line(color=GRAY, strokeWidth=1.7, clip=True).encode(
        x=alt.X("period:Q", scale=xs, axis=x_bottom(title_y)),
        y=alt.Y("tau:Q", scale=ys, axis=y_left()),
        detail="series:N")
    m = alt.Chart(mean_df(grid, mean)).mark_line(color=INK, strokeWidth=4.6, clip=True).encode(
        x=alt.X("period:Q", scale=xs, axis=x_top()),
        y=alt.Y("tau:Q", scale=ys, axis=y_right() if right else None))
    xexp = alt.Chart(pd.DataFrame({"period": X_MAJOR, "exp": X_EXP})).mark_text(
        align="left", baseline="alphabetic", font=FONT, fontSize=EXP_SIZE, color="black").encode(
        x=alt.X("period:Q", scale=xs, axis=None), y=alt.value(H + 18), text="exp:N")
    yexp = alt.Chart(pd.DataFrame({"tau": Y_MAJOR, "exp": Y_EXP})).mark_text(
        align="left", baseline="alphabetic", font=FONT, fontSize=EXP_SIZE, color="black",
        dy=-6).encode(
        y=alt.Y("tau:Q", scale=ys, axis=None), x=alt.value(-42), text="exp:N")
    layers = [g, m, xexp, yexp,
              rule(x=alt.value(0), x2=alt.value(width), y=alt.value(0)),
              rule(x=alt.value(0), x2=alt.value(width), y=alt.value(H)),
              rule(x=alt.value(0), y=alt.value(0), y2=alt.value(H))]
    if right:
        layers.append(rule(x=alt.value(width), y=alt.value(0), y2=alt.value(H)))
    if sub == "∥":
        layers += [txt(letter, 1, -28, 27), txt("τ", 37, -28, 27), txt("||", 54, -17, 17),
                   txt(",", 61, -28, 27), txt(month, 86, -28, 27)]
    else:
        layers += [txt(letter, 0, -28, 27), txt("τ", 34, -28, 27), txt("⊥", 52, -11, 20),
                   txt(",", 67, -28, 27), txt(month, 87, -28, 27)]
    if anchor_left or anchor_top:
        ax = -78.5 if anchor_left else 0
        ay = -63.5 if anchor_top else 0
        layers.append(alt.Chart(ONE).mark_rule(strokeOpacity=0, strokeWidth=1).encode(
            x=alt.value(ax), x2=alt.value(ax + 1), y=alt.value(ay)))
    return alt.layer(*layers).resolve_axis(x="independent", y="independent").properties(
        width=width, height=H)


pa = panel(GRID_A, GRAY_A, MEAN_A, 451, X_DOMAIN_LEFT, "a)", "∥", "Feb", True, 77, True, True)
pb = panel(GRID_B, GRAY_B, MEAN_B, 439, X_DOMAIN_RIGHT, "b)", "⊥", "Feb", False, 77, False, False)
pc = panel(GRID_C, GRAY_C, MEAN_C, 451, X_DOMAIN_LEFT, "c)", "∥", "Aug", True, 72, True, False)
pd_ = panel(GRID_D, GRAY_D, MEAN_D, 439, X_DOMAIN_RIGHT, "d)", "⊥", "Aug", False, 72, False, False)

chart = alt.ConcatChart(concat=[pa, pb, pc, pd_], columns=2,
                        spacing={"row": 145, "column": 85}, bounds="flush").properties(
    padding=0).configure_view(stroke=None)

chart.save("out.html", embed_options={"renderer": "svg", "actions": False})
